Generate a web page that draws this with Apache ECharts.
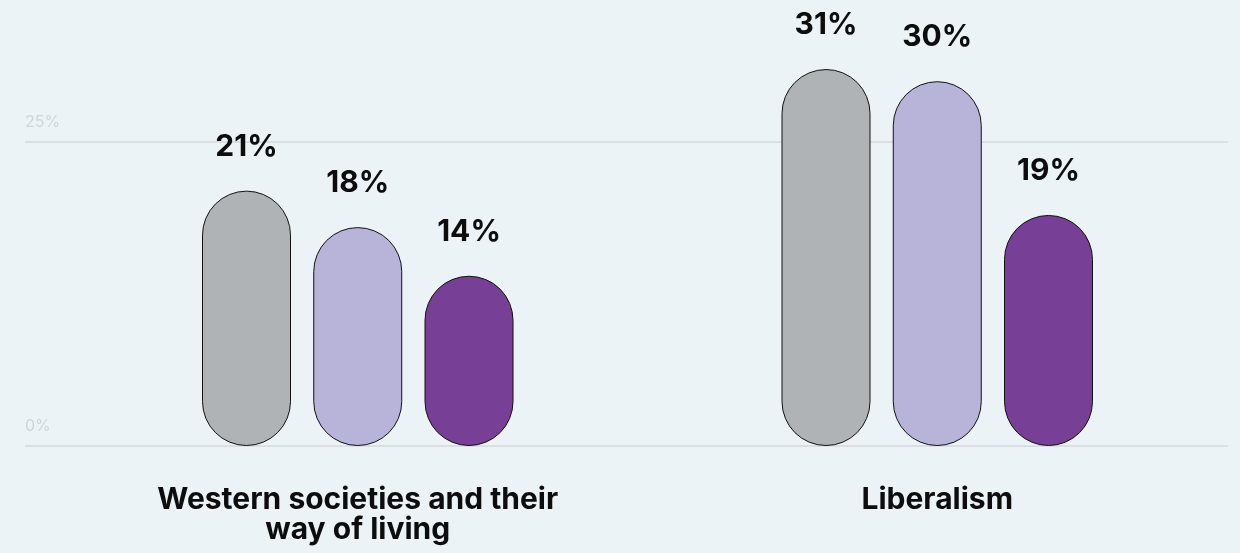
<!DOCTYPE html>
<html>
<head>
<meta charset="utf-8">
<script src="https://cdn.jsdelivr.net/npm/echarts@6/dist/echarts.min.js"></script>
<style>
  html, body { margin: 0; padding: 0; background: #ecf3f6; }
  #chart { width: 1240px; height: 553px; }
</style>
</head>
<body>
<div id="chart"></div>
<script>
// data
var categories = ['Western societies and their\nway of living', 'Liberalism'];
var seriesGray = [21, 31];
var seriesLilac = [18, 30];
var seriesPurple = [14, 19];
var tickValues = [0, 25];

var colors = ['#b0b3b5', '#b8b4d9', '#773f96'];

function barSeries(name, data, color) {
    return {
        name: name,
        type: 'bar',
        xAxisIndex: 1,
        yAxisIndex: 1,
        data: data,
        barWidth: 89,
        barGap: '25%',
        itemStyle: {
            color: color,
            borderColor: '#111',
            borderWidth: 1,
            borderRadius: 45
        },
        label: {
            show: true,
            position: 'top',
            distance: 29,
            formatter: '{c}%',
            fontFamily: 'Inter',
            fontWeight: 700,
            fontSize: 30,
            color: '#0d0d0d'
        }
    };
}

var chart = echarts.init(document.getElementById('chart'));

var option = {
    backgroundColor: '#ecf3f6',
    animation: false,
    grid: [
        // background grid: only the two horizontal lines and their labels
        { left: 25, right: 12, top: 142, bottom: 107 },
        // bars
        { left: 68, right: 13, top: 20.4, bottom: 107 }
    ],
    xAxis: [
        { type: 'value', gridIndex: 0, show: false },
        {
            type: 'category',
            gridIndex: 1,
            data: categories,
            axisLine: { show: false },
            axisTick: { show: false },
            axisLabel: {
                margin: 39,
                fontFamily: 'Inter',
                fontWeight: 700,
                fontSize: 30,
                lineHeight: 30,
                color: '#0d0d0d'
            }
        }
    ],
    yAxis: [
        {
            type: 'value',
            gridIndex: 0,
            min: tickValues[0],
            max: tickValues[1],
            interval: tickValues[1] - tickValues[0],
            axisLine: { show: false },
            axisTick: { show: false },
            splitLine: { lineStyle: { color: '#dcdfe1', width: 2 } },
            axisLabel: {
                inside: true,
                margin: 0,
                verticalAlign: 'bottom',
                padding: [0, 0, 12, 0],
                formatter: '{value}%',
                fontFamily: 'Inter',
                fontSize: 16,
                color: '#d0d4d7'
            }
        },
        {
            type: 'value',
            gridIndex: 1,
            min: 0,
            max: 35,
            show: false
        }
    ],
    series: [
        barSeries('Gray', seriesGray, colors[0]),
        barSeries('Lilac', seriesLilac, colors[1]),
        barSeries('Purple', seriesPurple, colors[2])
    ]
};

chart.setOption(option);
</script>
</body>
</html>
